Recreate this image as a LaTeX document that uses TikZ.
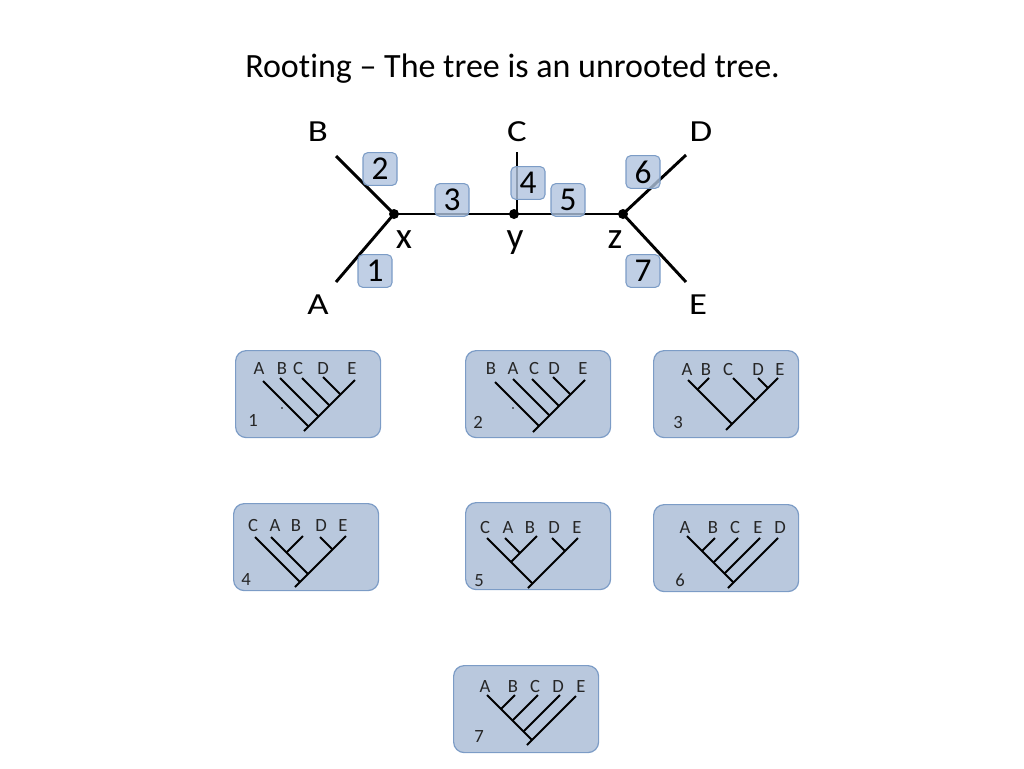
\documentclass[tikz,border=0pt]{standalone}
\usepackage{fontspec}
\setmainfont[Ligatures=NoCommon]{Carlito}
\definecolor{boxfill}{HTML}{B9C8DD}
\definecolor{boxline}{HTML}{7C9CC6}
\definecolor{edgefill}{HTML}{B0C3DE}
\begin{document}
\begin{tikzpicture}[x=0.75pt,y=-0.75pt,
  bigfont/.style={font=\fontsize{23}{24}\selectfont,xscale=1.2,anchor=base,inner sep=0pt},
  vfont/.style={font=\fontsize{28}{30}\selectfont,anchor=base,inner sep=0pt},
  titlefont/.style={font=\fontsize{25.5}{28}\selectfont},
  smallfont/.style={font=\fontsize{14}{16}\selectfont},
  mainedge/.style={line width=2.2pt,black},
  treeedge/.style={line width=1.5pt,black},
  vertex/.style={circle,fill=black,inner sep=0pt,minimum size=7.5pt},
  edgebox/.style={draw=boxline,line width=0.8pt,fill=edgefill,fill opacity=0.8,text opacity=1,
     rounded corners=3.5pt,minimum width=25.5pt,minimum height=24.5pt,inner sep=0pt,
     font=\fontsize{25}{26}\selectfont},
  treebox/.style={draw=boxline,line width=0.9pt,fill=boxfill,rounded corners=8pt,
     minimum width=108.75pt,minimum height=65.25pt,inner sep=0pt,anchor=north west},
  lbl/.style={smallfont,text=black!85,anchor=base,inner sep=0pt},
]
\useasboundingbox (0,0) rectangle (1024,768);
\node[titlefont,anchor=base west,inner sep=0pt] (title) at (245,77) {Rooting – The tree is an unrooted tree.};

% ---------- main unrooted tree ----------
\coordinate (vA) at (336,282);
\coordinate (vB) at (336,156);
\coordinate (vCt) at (517,152);
\coordinate (vCb) at (517,214);
\coordinate (vD) at (686,155);
\coordinate (vE) at (686,282);
\node[vertex] (nx) at (394,214) {};
\node[vertex] (ny) at (514,214) {};
\node[vertex] (nz) at (623,214) {};
\draw[mainedge] (vA) -- (nx.center);
\draw[mainedge] (vB) -- (nx.center);
\draw[mainedge] (nx.center) -- (ny.center);
\draw[mainedge] (ny.center) -- (nz.center);
\draw[mainedge] (vCt) -- (vCb);
\draw[mainedge] (nz.center) -- (vD);
\draw[mainedge] (nz.center) -- (vE);
\node[bigfont] (lB) at (318,141) {B};
\node[bigfont] (lC) at (517,141) {C};
\node[bigfont] (lD) at (701,141) {D};
\node[bigfont] (lA) at (318,314) {A};
\node[bigfont] (lE) at (698,314) {E};
\node[vfont] (lx) at (404,248) {x};
\node[vfont] (ly) at (515,248) {y};
\node[vfont] (lz) at (615,248) {z};
\node[edgebox] (e1) at (375,271) {1};
\node[edgebox] (e2) at (380,169) {2};
\node[edgebox] (e3) at (452,200) {3};
\node[edgebox] (e4) at (528,183) {4};
\node[edgebox] (e5) at (568,200) {5};
\node[edgebox] (e6) at (643,172) {6};
\node[edgebox] (e7) at (643,271) {7};

% ---------- tree box 1 ----------
\node[treebox] (b1) at (235,350) {};
\node[lbl] (b1A) at (259,374) {A};
\node[lbl] (b1B) at (282,374) {B};
\node[lbl] (b1C) at (298,374) {C};
\node[lbl] (b1D) at (323,374) {D};
\node[lbl] (b1E) at (352,374) {E};
\node[lbl] (b1n) at (253,426) {1};
\draw[treeedge] (355,380) coordinate (t1e) -- (304,431) coordinate (t1r);
\draw[treeedge] (263,381) coordinate (t1a) -- (308.5,426.5) coordinate (t1aj);
\draw[treeedge] (280,378) coordinate (t1b) -- (318.5,416.5) coordinate (t1bj);
\draw[treeedge] (302,378) coordinate (t1c) -- (329.5,405.5) coordinate (t1cj);
\draw[treeedge] (323,377) coordinate (t1d) -- (340.5,394.5) coordinate (t1dj);
\fill (282,408) circle (0.7pt);

% ---------- tree box 2 ----------
\node[treebox] (b2) at (465,350) {};
\node[lbl] (b2B) at (491,374) {B};
\node[lbl] (b2A) at (513,374) {A};
\node[lbl] (b2C) at (534,374) {C};
\node[lbl] (b2D) at (554,374) {D};
\node[lbl] (b2E) at (583,374) {E};
\node[lbl] (b2n) at (478,428) {2};
\draw[treeedge] (585,380) coordinate (t2e) -- (533,432) coordinate (t2r);
\draw[treeedge] (495,382) coordinate (t2b) -- (539,426) coordinate (t2bj);
\draw[treeedge] (513,379) coordinate (t2a) -- (549.5,415.5) coordinate (t2aj);
\draw[treeedge] (532,379) coordinate (t2c) -- (559,406) coordinate (t2cj);
\draw[treeedge] (553,377) coordinate (t2d) -- (570.5,394.5) coordinate (t2dj);
\fill (513,408) circle (0.7pt);

% ---------- tree box 3 ----------
\node[treebox] (b3) at (653,350) {};
\node[lbl] (b3A) at (687,375) {A};
\node[lbl] (b3B) at (706,375) {B};
\node[lbl] (b3C) at (728,375) {C};
\node[lbl] (b3D) at (758,375) {D};
\node[lbl] (b3E) at (780,375) {E};
\node[lbl] (b3n) at (678,428) {3};
\draw[treeedge] (778,378) coordinate (t3e) -- (726,430) coordinate (t3r);
\draw[treeedge] (688,380) coordinate (t3a) -- (732,424) coordinate (t3aj);
\draw[treeedge] (709,378) coordinate (t3b) -- (697.5,389.5) coordinate (t3bj);
\draw[treeedge] (733,378) coordinate (t3c) -- (755.5,400.5) coordinate (t3cj);
\draw[treeedge] (758,378) coordinate (t3d) -- (768,388) coordinate (t3dj);

% ---------- tree box 4 ----------
\node[treebox] (b4) at (233,503) {};
\node[lbl] (b4C) at (253,531) {C};
\node[lbl] (b4A) at (275,531) {A};
\node[lbl] (b4B) at (296,531) {B};
\node[lbl] (b4D) at (321,531) {D};
\node[lbl] (b4E) at (343,531) {E};
\node[lbl] (b4n) at (246,585) {4};
\draw[treeedge] (346,536) coordinate (t4e) -- (295,587) coordinate (t4r);
\draw[treeedge] (255,537) coordinate (t4c) -- (300,582) coordinate (t4cj);
\draw[treeedge] (271,537) coordinate (t4a) -- (308,574) coordinate (t4aj);
\draw[treeedge] (303,536) coordinate (t4b) -- (286.5,552.5) coordinate (t4bj);
\draw[treeedge] (320,537) coordinate (t4d) -- (332.5,549.5) coordinate (t4dj);

% ---------- tree box 5 ----------
\node[treebox] (b5) at (465,502) {};
\node[lbl] (b5C) at (485,533) {C};
\node[lbl] (b5A) at (508,533) {A};
\node[lbl] (b5B) at (530,533) {B};
\node[lbl] (b5D) at (554,533) {D};
\node[lbl] (b5E) at (577,533) {E};
\node[lbl] (b5n) at (479,586) {5};
\draw[treeedge] (578,538) coordinate (t5e) -- (528,588) coordinate (t5r);
\draw[treeedge] (487,538) coordinate (t5c) -- (532.5,583.5) coordinate (t5cj);
\draw[treeedge] (537,536) coordinate (t5b) -- (511,562) coordinate (t5bj);
\draw[treeedge] (505,538) coordinate (t5a) -- (520,553) coordinate (t5aj);
\draw[treeedge] (552,538) coordinate (t5d) -- (565,551) coordinate (t5dj);

% ---------- tree box 6 ----------
\node[treebox] (b6) at (653,504) {};
\node[lbl] (b6A) at (685,533) {A};
\node[lbl] (b6B) at (713,533) {B};
\node[lbl] (b6C) at (735,533) {C};
\node[lbl] (b6E) at (758,533) {E};
\node[lbl] (b6D) at (780,533) {D};
\node[lbl] (b6n) at (680,586) {6};
\draw[treeedge] (778,538) coordinate (t6d) -- (728,588) coordinate (t6r);
\draw[treeedge] (687,536) coordinate (t6a) -- (733.5,582.5) coordinate (t6aj);
\draw[treeedge] (715,538) coordinate (t6b) -- (702,551) coordinate (t6bj);
\draw[treeedge] (738,538) coordinate (t6c) -- (713.5,562.5) coordinate (t6cj);
\draw[treeedge] (760,538) coordinate (t6e) -- (724.5,573.5) coordinate (t6ej);

% ---------- tree box 7 ----------
\node[treebox] (b7) at (453,665) {};
\node[lbl] (b7A) at (485,692) {A};
\node[lbl] (b7B) at (513,692) {B};
\node[lbl] (b7C) at (535,692) {C};
\node[lbl] (b7D) at (558,692) {D};
\node[lbl] (b7E) at (581,692) {E};
\node[lbl] (b7n) at (479,742) {7};
\draw[treeedge] (576,696) coordinate (t7e) -- (527,745) coordinate (t7r);
\draw[treeedge] (487,695) coordinate (t7a) -- (532,740) coordinate (t7aj);
\draw[treeedge] (515,695) coordinate (t7b) -- (501,709) coordinate (t7bj);
\draw[treeedge] (538,695) coordinate (t7c) -- (512.5,720.5) coordinate (t7cj);
\draw[treeedge] (560,695) coordinate (t7d) -- (523.5,731.5) coordinate (t7dj);
\end{tikzpicture}
\end{document}
